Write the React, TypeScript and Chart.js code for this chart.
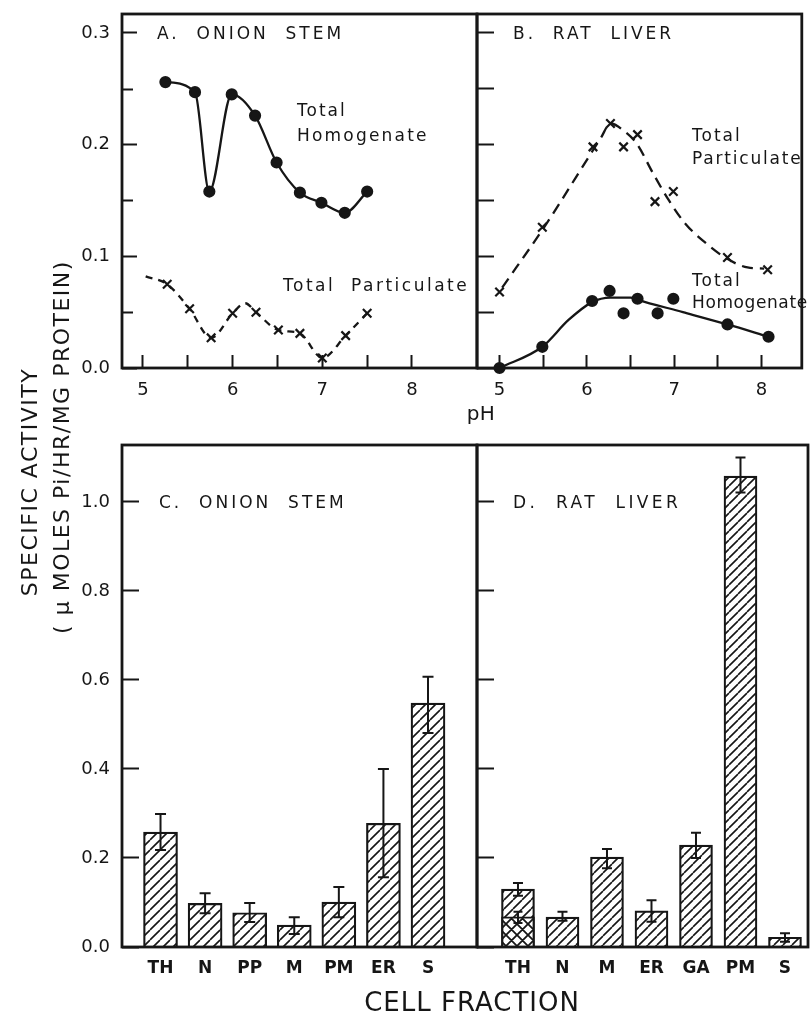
import React, { useEffect, useRef } from "react";
import { Chart, registerables } from "chart.js";

Chart.register(...registerables);

const FONT = "'DejaVu Sans', 'Liberation Sans', sans-serif";
const INK = "#161616";

// ---------- Panel A: onion stem, activity vs pH ----------
const aHomogenatePH = [5.25, 5.58, 5.74, 5.99, 6.25, 6.49, 6.75, 6.99, 7.25, 7.5];
const aHomogenateVal = [0.256, 0.247, 0.158, 0.245, 0.226, 0.184, 0.157, 0.148, 0.139, 0.158];
const aParticulatePH = [5.27, 5.52, 5.76, 6.0, 6.26, 6.51, 6.75, 7.0, 7.26, 7.5];
const aParticulateVal = [0.075, 0.053, 0.027, 0.049, 0.05, 0.034, 0.031, 0.009, 0.029, 0.049];
const aParticulateCurvePH = [5.03, 5.27, 5.52, 5.76, 6.0, 6.14, 6.26, 6.51, 6.75, 7.0, 7.26, 7.5];
const aParticulateCurveVal = [0.082, 0.075, 0.053, 0.027, 0.049, 0.058, 0.05, 0.034, 0.031, 0.009, 0.029, 0.049];

// ---------- Panel B: rat liver, activity vs pH ----------
const bParticulatePH = [5.0, 5.49, 6.07, 6.27, 6.42, 6.58, 6.78, 6.99, 7.61, 8.07];
const bParticulateVal = [0.068, 0.126, 0.198, 0.219, 0.198, 0.209, 0.149, 0.158, 0.099, 0.088];
const bParticulateCurvePH = [5.03, 5.51, 6.16, 6.27, 6.43, 6.57, 6.76, 6.94, 7.13, 7.36, 7.58, 7.84, 8.03];
const bParticulateCurveVal = [0.072, 0.126, 0.206, 0.219, 0.212, 0.201, 0.174, 0.15, 0.129, 0.112, 0.099, 0.09, 0.089];
const bHomogenatePH = [5.0, 5.49, 6.06, 6.26, 6.42, 6.58, 6.81, 6.99, 7.61, 8.08];
const bHomogenateVal = [0.0, 0.019, 0.06, 0.069, 0.049, 0.062, 0.049, 0.062, 0.039, 0.028];
const bHomogenateCurvePH = [5.0, 5.49, 5.79, 6.06, 6.27, 6.5, 6.58, 7.1, 7.61, 8.08];
const bHomogenateCurveVal = [0.0, 0.019, 0.043, 0.059, 0.063, 0.063, 0.061, 0.05, 0.039, 0.028];

// ---------- Panel C: onion stem, cell fractions ----------
const cFractions = ["TH", "N", "PP", "M", "PM", "ER", "S"];
const cValues = [0.258, 0.098, 0.077, 0.049, 0.101, 0.278, 0.548];
const cErrLow = [0.218, 0.076, 0.056, 0.029, 0.067, 0.157, 0.481];
const cErrHigh = [0.299, 0.121, 0.099, 0.067, 0.135, 0.4, 0.607];

// ---------- Panel D: rat liver, cell fractions ----------
const dFractions = ["TH", "N", "M", "ER", "GA", "PM", "S"];
const dValues = [0.13, 0.067, 0.202, 0.081, 0.229, 1.058, 0.022];
const dErrLow = [0.115, 0.059, 0.177, 0.057, 0.2, 1.021, 0.012];
const dErrHigh = [0.144, 0.079, 0.22, 0.105, 0.257, 1.1, 0.031];
const dInnerFractionIndex = [0];
const dInnerValues = [0.068];
const dInnerErrLow = [0.054];
const dInnerErrHigh = [0.079];

// ---------- ticks ----------
const phTicks = [5, 5.5, 6, 6.5, 7, 7.5, 8];
const phTickLabels = ["5", "", "6", "", "7", "", "8"];
const aYTicks = [0, 0.1, 0.2, 0.3];
const aYTickLabels = ["0.0", "0.1", "0.2", "0.3"];
const aYMinorTicks = [0.05, 0.15, 0.25];
const bYTicks = [0, 0.05, 0.1, 0.15, 0.2, 0.25, 0.3];
const cdYTicks = [0, 0.2, 0.4, 0.6, 0.8, 1.0];
const cYTickLabels = ["0.0", "0.2", "0.4", "0.6", "0.8", "1.0"];

const tickFont = { family: FONT, size: 18 };
const catFont = { family: FONT, size: 17, weight: "bold" as const };

const pts = (xs: number[], ys: number[]) => xs.map((x, i) => ({ x, y: ys[i] }));
const setTicks = (vals: number[]) => (s: any) => {
  s.ticks = vals.map((v) => ({ value: v }));
};
const fixSize = (size: number, horizontal: boolean) => (s: any) => {
  if (horizontal) s.height = size;
  else s.width = size;
  s.paddingTop = 0;
  s.paddingBottom = 0;
  s.paddingLeft = 0;
  s.paddingRight = 0;
};

const framePlugin = {
  id: "frame",
  afterDraw(chart: any) {
    const { ctx, chartArea: a } = chart;
    ctx.save();
    ctx.strokeStyle = INK;
    ctx.lineWidth = 2.8;
    ctx.strokeRect(a.left, a.top, a.right - a.left, a.bottom - a.top);
    ctx.restore();
  },
};

const minorTickPlugin = {
  id: "minorTicks",
  afterDraw(chart: any) {
    const { ctx, chartArea: a } = chart;
    const ys = chart.scales.y;
    ctx.save();
    ctx.strokeStyle = INK;
    ctx.lineWidth = 2;
    ctx.beginPath();
    aYMinorTicks.forEach((v) => {
      const py = Math.round(ys.getPixelForValue(v)) + 0.5;
      ctx.moveTo(a.left, py);
      ctx.lineTo(a.left + 11, py);
    });
    ctx.stroke();
    ctx.restore();
  },
};

const errorBarPlugin = {
  id: "errorBars",
  afterDatasetsDraw(chart: any) {
    const { ctx } = chart;
    const ys = chart.scales.y;
    chart.data.datasets.forEach((ds: any, di: number) => {
      if (!ds.errLow) return;
      const meta = chart.getDatasetMeta(di);
      meta.data.forEach((el: any, i: number) => {
        const x = el.x;
        const yHi = ys.getPixelForValue(ds.errHigh[i]);
        const yLo = ys.getPixelForValue(ds.errLow[i]);
        const cap = ds.capHalf || 5.5;
        ctx.save();
        ctx.strokeStyle = INK;
        ctx.lineWidth = 2;
        ctx.beginPath();
        ctx.moveTo(x, yHi);
        ctx.lineTo(x, yLo);
        ctx.moveTo(x - cap, yHi);
        ctx.lineTo(x + cap, yHi);
        ctx.moveTo(x - cap, yLo);
        ctx.lineTo(x + cap, yLo);
        ctx.stroke();
        ctx.restore();
      });
    });
  },
};

function makeHatch(size: number, cross: boolean, lw: number): CanvasPattern {
  const c = document.createElement("canvas");
  c.width = size;
  c.height = size;
  const g = c.getContext("2d")!;
  g.fillStyle = "#ffffff";
  g.fillRect(0, 0, size, size);
  g.strokeStyle = INK;
  g.lineWidth = lw;
  g.beginPath();
  for (const off of [-size, 0, size]) {
    g.moveTo(off, size);
    g.lineTo(off + size, 0);
    if (cross) {
      g.moveTo(off, 0);
      g.lineTo(off + size, size);
    }
  }
  g.stroke();
  return g.createPattern(c, "repeat")!;
}

function phAxis(min: number, max: number) {
  return {
    type: "linear",
    min,
    max,
    bounds: "data",
    offset: false,
    afterBuildTicks: setTicks(phTicks),
    afterFit: fixSize(40, true),
    ticks: {
      callback: (_v: any, i: number) => phTickLabels[i],
      font: tickFont,
      color: INK,
      padding: 25,
      maxRotation: 0,
      autoSkip: false,
    },
    grid: { drawOnChartArea: false, tickLength: -13, tickWidth: 2, tickColor: INK },
    border: { display: false },
  };
}

function catAxis(min: number, max: number, labels: string[]) {
  return {
    type: "linear",
    min,
    max,
    bounds: "data",
    offset: false,
    afterBuildTicks: setTicks(labels.map((_l, i) => i)),
    afterFit: fixSize(40, true),
    ticks: {
      callback: (_v: any, i: number) => labels[i],
      font: catFont,
      color: INK,
      padding: 11,
      maxRotation: 0,
      autoSkip: false,
    },
    grid: { display: false, drawTicks: false, offset: false },
    border: { display: false },
  };
}

const baseOptions = (padding: any, scales: any) => ({
  responsive: false,
  animation: false,
  events: [],
  layout: { padding },
  plugins: { legend: { display: false }, tooltip: { enabled: false }, title: { display: false } },
  scales,
});

const markerDs = (data: any, style: string) => ({
  data,
  showLine: false,
  pointStyle: style,
  pointRadius: style === "circle" ? 5 : 6,
  pointBorderWidth: 2.2,
  pointBackgroundColor: INK,
  pointBorderColor: INK,
  clip: false,
});

const curveDs = (data: any, dashed: boolean, dash: number[]) => ({
  data,
  showLine: true,
  pointRadius: 0,
  borderColor: INK,
  borderWidth: 2.3,
  borderDash: dashed ? dash : [],
  cubicInterpolationMode: "monotone",
  clip: false,
});

export default function App() {
  const refA = useRef<HTMLCanvasElement>(null);
  const refB = useRef<HTMLCanvasElement>(null);
  const refC = useRef<HTMLCanvasElement>(null);
  const refD = useRef<HTMLCanvasElement>(null);

  useEffect(() => {
    const charts: Chart[] = [];
    const hatchC = makeHatch(10, false, 1.6);
    const hatchD = makeHatch(9, false, 1.6);
    const crossD = makeHatch(11, true, 1.8);

    // Panel A
    charts.push(
      new Chart(refA.current!, {
        type: "scatter",
        data: {
          datasets: [
            curveDs(pts(aHomogenatePH, aHomogenateVal), false, []),
            markerDs(pts(aHomogenatePH, aHomogenateVal), "circle"),
            curveDs(pts(aParticulateCurvePH, aParticulateCurveVal), true, [7, 6]),
            markerDs(pts(aParticulatePH, aParticulateVal), "crossRot"),
          ] as any,
        },
        options: baseOptions({ left: 62, right: 333, top: 14, bottom: 608 }, {
          x: phAxis(4.766, 8.725),
          y: {
            type: "linear",
            min: 0,
            max: 0.317,
            bounds: "data",
            afterBuildTicks: setTicks(aYTicks),
            afterFit: fixSize(60, false),
            ticks: {
              callback: (_v: any, i: number) => aYTickLabels[i],
              font: tickFont,
              color: INK,
              padding: 27,
            },
            grid: { drawOnChartArea: false, tickLength: -15, tickWidth: 2, tickColor: INK },
            border: { display: false },
          },
        }) as any,
        plugins: [framePlugin, minorTickPlugin],
      })
    );

    // Panel B
    charts.push(
      new Chart(refB.current!, {
        type: "scatter",
        data: {
          datasets: [
            curveDs(pts(bParticulateCurvePH, bParticulateCurveVal), true, [11, 7]),
            markerDs(pts(bParticulatePH, bParticulateVal), "crossRot"),
            curveDs(pts(bHomogenateCurvePH, bHomogenateCurveVal), false, []),
            markerDs(pts(bHomogenatePH, bHomogenateVal), "circle"),
          ] as any,
        },
        options: baseOptions({ left: 477, right: 2, top: 14, bottom: 608 }, {
          x: phAxis(4.742, 8.461),
          y: {
            type: "linear",
            min: 0,
            max: 0.317,
            bounds: "data",
            afterBuildTicks: setTicks(bYTicks),
            afterFit: fixSize(0, false),
            ticks: { display: false },
            grid: { drawOnChartArea: false, tickLength: -17, tickWidth: 2, tickColor: INK },
            border: { display: false },
          },
        }) as any,
        plugins: [framePlugin],
      })
    );

    // Panel C
    charts.push(
      new Chart(refC.current!, {
        type: "bar",
        data: {
          datasets: [
            {
              data: cValues.map((v, i) => ({ x: i, y: v })),
              backgroundColor: hatchC,
              borderColor: INK,
              borderWidth: 2.2,
              barThickness: 34,
              errLow: cErrLow,
              errHigh: cErrHigh,
              capHalf: 5.5,
            },
          ] as any,
        },
        options: baseOptions({ left: 62, right: 333, top: 445, bottom: 29 }, {
          x: catAxis(-0.864, 7.099, cFractions),
          y: {
            type: "linear",
            min: 0,
            max: 1.128,
            bounds: "data",
            afterBuildTicks: setTicks(cdYTicks),
            afterFit: fixSize(60, false),
            ticks: {
              callback: (_v: any, i: number) => cYTickLabels[i],
              font: tickFont,
              color: INK,
              padding: 29,
            },
            grid: { drawOnChartArea: false, tickLength: -17, tickWidth: 2, tickColor: INK },
            border: { display: false },
          },
        }) as any,
        plugins: [framePlugin, errorBarPlugin],
      })
    );

    // Panel D
    charts.push(
      new Chart(refD.current!, {
        type: "bar",
        data: {
          datasets: [
            {
              data: dInnerValues.map((v, i) => ({ x: dInnerFractionIndex[i], y: v })),
              backgroundColor: crossD,
              borderColor: INK,
              borderWidth: 2.2,
              barThickness: 33,
              grouped: false,
              order: 0,
              errLow: dInnerErrLow,
              errHigh: dInnerErrHigh,
              capHalf: 4.5,
            },
            {
              data: dValues.map((v, i) => ({ x: i, y: v })),
              backgroundColor: hatchD,
              borderColor: INK,
              borderWidth: 2.2,
              barThickness: 33,
              grouped: false,
              order: 1,
              errLow: dErrLow,
              errHigh: dErrHigh,
              capHalf: 5,
            },
          ] as any,
        },
        options: baseOptions({ left: 477, right: 2, top: 445, bottom: 29 }, {
          x: catAxis(-0.921, 6.517, dFractions),
          y: {
            type: "linear",
            min: 0,
            max: 1.128,
            bounds: "data",
            afterBuildTicks: setTicks(cdYTicks),
            afterFit: fixSize(0, false),
            ticks: { display: false },
            grid: { drawOnChartArea: false, tickLength: -17, tickWidth: 2, tickColor: INK },
            border: { display: false },
          },
        }) as any,
        plugins: [framePlugin, errorBarPlugin],
      })
    );

    return () => charts.forEach((c) => c.destroy());
  }, []);

  const canvasStyle: React.CSSProperties = { position: "absolute", left: 0, top: 0 };
  const label = (text: string, left: number, cy: number, size: number, spacing: number) => (
    <div
      style={{
        position: "absolute",
        left,
        top: cy - size * 0.48,
        fontSize: size,
        lineHeight: 1,
        letterSpacing: spacing,
        whiteSpace: "pre",
      }}
    >
      {text}
    </div>
  );
  const centered = (text: string, cx: number, cy: number, size: number, spacing: number, rotate = 0) => (
    <div
      style={{
        position: "absolute",
        left: cx,
        top: cy,
        fontSize: size,
        lineHeight: 1,
        letterSpacing: spacing,
        whiteSpace: "pre",
        transform: `translate(-50%, -50%) rotate(${rotate}deg)`,
      }}
    >
      {text}
    </div>
  );

  return (
    <div
      style={{
        position: "absolute",
        left: 0,
        top: 0,
        width: 810,
        height: 1016,
        overflow: "hidden",
        background: "#ffffff",
        fontFamily: FONT,
        color: INK,
      }}
    >
      <canvas ref={refA} width={810} height={1016} style={canvasStyle} />
      <canvas ref={refB} width={810} height={1016} style={canvasStyle} />
      <canvas ref={refC} width={810} height={1016} style={canvasStyle} />
      <canvas ref={refD} width={810} height={1016} style={canvasStyle} />

      {label("A.  ONION  STEM", 157, 33, 17, 3)}
      {label("Total", 297, 110, 17, 2)}
      {label("Homogenate", 297, 135, 17, 2.2)}
      {label("Total  Particulate", 283, 285, 17, 2.5)}

      {label("B.  RAT  LIVER", 513, 33, 17, 3)}
      {label("Total", 692, 135, 17, 2)}
      {label("Particulate", 692, 158, 17, 1.8)}
      {label("Total", 692, 280, 17, 2)}
      {label("Homogenate", 692, 302, 17, 0.6)}

      {label("C.  ONION  STEM", 159, 502, 17, 3)}
      {label("D.  RAT  LIVER", 513, 502, 17, 3.4)}

      {centered("pH", 481, 413, 20, 0.5)}
      {centered("CELL FRACTION", 472, 1002, 26, 1)}
      {centered("SPECIFIC ACTIVITY", 30, 482, 22, 1.5, -90)}
      {centered("( \u03bc MOLES Pi/HR/MG PROTEIN)", 62, 447, 22, 1.5, -90)}
    </div>
  );
}
